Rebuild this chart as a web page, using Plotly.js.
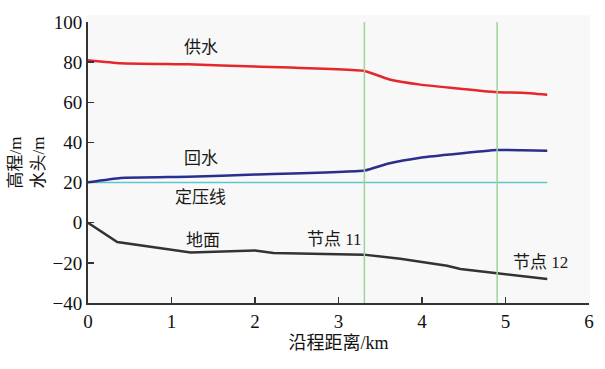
<!DOCTYPE html>
<html><head><meta charset="utf-8">
<script src="https://cdn.plot.ly/plotly-3.0.1.min.js"></script>
<style>html,body{margin:0;padding:0;background:#fff}#c{width:605px;height:369px}</style>
</head><body><div id="c"></div>
<script>
const supplyX = [0, 0.39, 1.2, 2.0, 3.31, 3.6, 3.98, 4.34, 4.9, 5.2, 5.5];
const supplyY = [81, 79.5, 78.9, 77.8, 75.6, 71.5, 68.8, 67.2, 65.0, 64.8, 63.8];
const returnX = [0, 0.39, 1.2, 2.0, 3.31, 3.6, 3.98, 4.34, 4.9, 5.2, 5.5];
const returnY = [20.1, 22.3, 22.9, 24.0, 26.0, 29.5, 32.4, 34.0, 36.2, 36.1, 35.9];
const pressX = [0, 5.5];
const pressY = [20, 20];
const groundX = [0, 0.35, 1.23, 2.0, 2.22, 3.3, 3.74, 4.3, 4.46, 4.9, 5.5];
const groundY = [0, -9.6, -14.8, -13.8, -15.1, -15.9, -17.9, -21.4, -23.1, -25.1, -28];
const nodeX = [3.31, 4.9];
const xTicks = [0, 1, 2, 3, 4, 5, 6];
const yTicks = [-40, -20, 0, 20, 40, 60, 80, 100];
const labels = [
  {text: '供水', x: 1.35, y: 87.5},
  {text: '回水', x: 1.35, y: 32},
  {text: '定压线', x: 1.35, y: 12.5},
  {text: '地面', x: 1.38, y: -9},
  {text: '节点 11', x: 2.95, y: -8.5},
  {text: '节点 12', x: 5.42, y: -20}
];

const serif = "Liberation Serif, Noto Sans CJK SC, serif";

const traces = [
  {x: pressX, y: pressY, mode: 'lines', line: {color: '#5cc6ca', width: 1.5}, hoverinfo: 'skip'},
  {x: supplyX, y: supplyY, mode: 'lines', line: {color: '#e5262b', width: 2.5, shape: 'spline', smoothing: 0.4}},
  {x: returnX, y: returnY, mode: 'lines', line: {color: '#2a2e8e', width: 2.5, shape: 'spline', smoothing: 0.4}},
  {x: groundX, y: groundY, mode: 'lines', line: {color: '#333333', width: 2.5}}
];

const shapes = [
  {type: 'rect', xref: 'paper', yref: 'paper', x0: -0.004, x1: 1.002, y0: -0.01, y1: 1.025,
   fillcolor: '#f8f8f8', line: {width: 0}, layer: 'below'}
].concat(nodeX.map(v => ({type: 'line', xref: 'x', yref: 'y', x0: v, x1: v, y0: -40, y1: 100,
   line: {color: '#9fd39a', width: 1.5}, layer: 'above'})));

const annotations = labels.map(l => ({
  text: l.text, x: l.x, y: l.y, xref: 'x', yref: 'y', showarrow: false,
  font: {family: serif, size: 17, color: '#1a1a1a'}
}));

const layout = {
  width: 605, height: 369,
  margin: {l: 88, r: 16, t: 22, b: 66},
  font: {family: serif, size: 19, color: '#111'},
  paper_bgcolor: '#ffffff',
  plot_bgcolor: 'rgba(0,0,0,0)',
  showlegend: false,
  shapes: shapes,
  annotations: annotations,
  xaxis: {
    range: [0, 6], tickmode: 'array', tickvals: xTicks, ticktext: xTicks.map(String),
    showgrid: false, zeroline: false, showline: true, linecolor: '#333', linewidth: 2,
    ticks: 'inside', ticklen: 6, tickwidth: 1.5, tickcolor: '#333',
    tickfont: {family: serif, size: 19, color: '#111'},
    title: {text: '沿程距离/km', font: {family: serif, size: 18, color: '#111'}, standoff: 6}
  },
  yaxis: {
    range: [-40, 100], tickmode: 'array', tickvals: yTicks, ticktext: yTicks.map(v => v < 0 ? '\u2212' + Math.abs(v) : String(v)),
    showgrid: false, zeroline: false, showline: true, linecolor: '#333', linewidth: 2,
    ticks: 'inside', ticklen: 6, tickwidth: 1.5, tickcolor: '#333',
    tickfont: {family: serif, size: 19, color: '#111'},
    title: {text: '高程/m<br>水头/m', font: {family: serif, size: 17, color: '#111'}, standoff: 4}
  }
};

Plotly.newPlot('c', traces, layout, {staticPlot: true});
</script></body></html>
